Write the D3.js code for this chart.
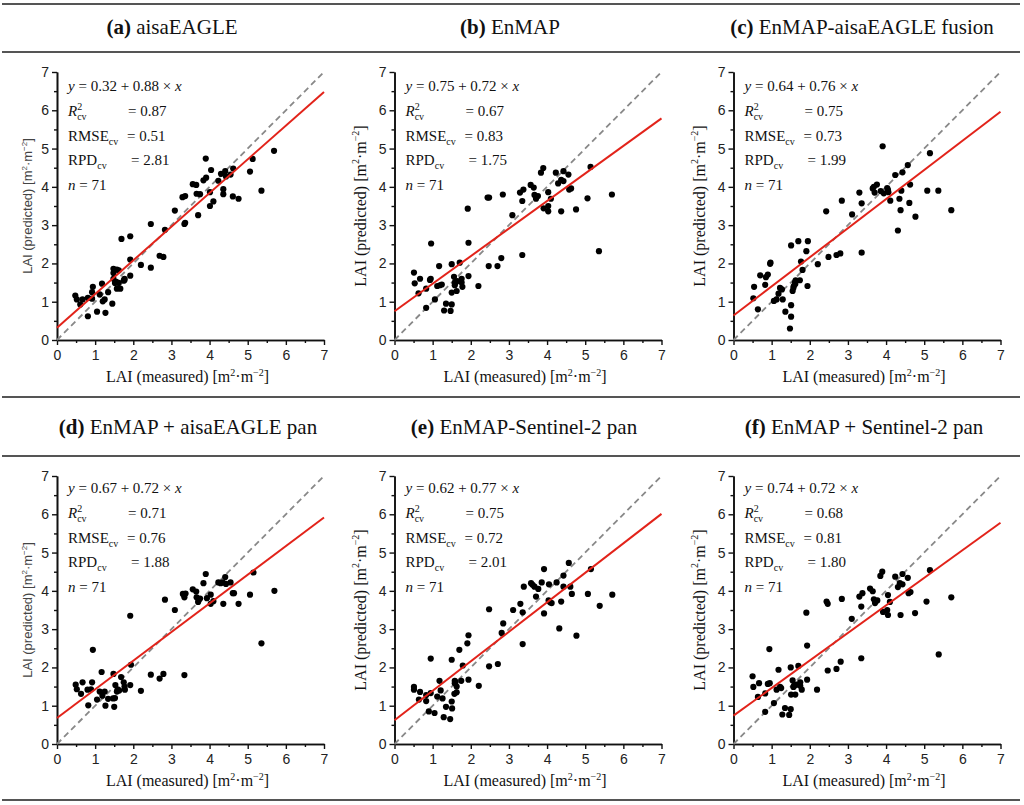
<!DOCTYPE html>
<html>
<head>
<meta charset="utf-8">
<style>
  body { margin: 0; background: #fff; }
  svg { display: block; }
</style>
</head>
<body>
<svg id="chart" width="1024" height="805"></svg>
<script src="https://cdn.jsdelivr.net/npm/d3@7/dist/d3.min.js"></script>
<script>

// ---- data ----
var panelLetters = ["a", "b", "c", "d", "e", "f"];
var panelNames = ["aisaEAGLE", "EnMAP", "EnMAP-aisaEAGLE fusion",
                  "EnMAP + aisaEAGLE pan", "EnMAP-Sentinel-2 pan", "EnMAP + Sentinel-2 pan"];
var intercepts = [0.32, 0.75, 0.64, 0.67, 0.62, 0.74];
var slopes     = [0.88, 0.72, 0.76, 0.72, 0.77, 0.72];
// the red lines as actually drawn in the figure (panel d is drawn a bit steeper than its label)
var lineIntercepts = [0.32, 0.75, 0.64, 0.68, 0.62, 0.74];
var lineSlopes     = [0.88, 0.72, 0.76, 0.748, 0.77, 0.72];
var r2cv       = ["0.87", "0.67", "0.75", "0.71", "0.75", "0.68"];
var rmsecv     = ["0.51", "0.83", "0.73", "0.76", "0.72", "0.81"];
var rpdcv      = ["2.81", "1.75", "1.99", "1.88", "2.01", "1.80"];
var nSamples   = [71, 71, 71, 71, 71, 71];
var axisTicks  = [0, 1, 2, 3, 4, 5, 6, 7];

// [measured, predicted]
var pointsA = [[0.48,1.16],[0.52,1.06],[0.61,0.93],[0.67,1.06],[0.81,1.10],[0.81,0.62],[0.92,1.08],[0.94,1.39],
  [0.92,1.25],[1.05,0.74],[1.12,1.19],[1.18,1.47],[1.20,1.01],[1.25,1.06],[1.27,0.71],[1.34,1.25],[1.45,0.95],
  [1.48,1.75],[1.48,1.86],[1.52,1.49],[1.57,1.84],[1.57,1.34],[1.62,1.49],[1.66,1.34],[1.69,2.64],[1.75,1.55],
  [1.77,1.60],[1.92,2.10],[1.92,2.71],[1.92,1.68],[2.20,1.96],[2.46,3.03],[2.46,1.89],[2.69,2.20],[2.79,2.17],
  [2.83,2.88],[3.09,3.38],[3.29,3.73],[3.36,3.76],[3.34,3.03],[3.56,4.07],[3.65,4.05],[3.66,3.82],[3.70,3.26],
  [3.75,3.81],[3.84,4.17],[3.91,4.24],[3.90,4.74],[4.01,3.86],[4.01,3.50],[4.04,4.44],[4.10,3.62],[4.23,4.16],
  [4.30,4.34],[4.36,3.81],[4.36,3.94],[4.41,4.41],[4.43,4.27],[4.55,4.32],[4.61,3.75],[4.62,4.48],[4.76,3.69],
  [5.06,4.40],[5.13,4.73],[5.36,3.90],[5.69,4.94],[1.48,1.60],[1.62,1.82],[3.36,3.06],[1.77,1.57],[1.55,1.52]];

var pointsB = [[0.51,1.76],[0.53,1.48],[0.67,1.60],[0.63,1.22],[0.83,1.34],[0.83,0.84],[0.93,1.57],[0.96,2.52],
  [0.95,1.60],[1.06,1.06],[1.12,1.41],[1.17,1.93],[1.19,1.43],[1.24,1.45],[1.30,0.77],[1.35,0.95],[1.47,0.76],
  [1.50,0.93],[1.50,1.98],[1.50,1.24],[1.56,1.65],[1.58,1.43],[1.61,1.51],[1.63,1.28],[1.64,1.54],[1.71,2.02],
  [1.76,1.50],[1.76,1.60],[1.78,1.39],[1.92,3.43],[1.94,2.54],[1.94,1.67],[2.20,1.41],[2.44,3.72],[2.48,3.72],
  [2.47,1.93],[2.70,1.93],[2.80,2.14],[2.84,3.80],[3.09,3.26],[3.29,3.85],[3.35,3.63],[3.35,2.22],[3.38,3.93],
  [3.57,4.05],[3.65,3.98],[3.67,3.79],[3.71,3.69],[3.76,3.76],[3.84,4.37],[3.90,4.49],[3.91,3.44],[4.03,3.86],
  [4.03,3.50],[4.03,3.36],[4.10,3.69],[4.23,4.37],[4.29,4.09],[4.37,4.18],[4.37,3.36],[4.43,4.41],[4.43,4.15],
  [4.56,4.32],[4.58,3.93],[4.63,3.96],[4.76,3.41],[5.06,3.70],[5.14,4.52],[5.36,2.32],[5.70,3.80],[1.58,1.50]];

var pointsC = [[0.52,1.09],[0.54,1.39],[0.64,0.80],[0.70,1.69],[0.83,1.44],[0.85,1.64],[0.90,1.71],[0.96,1.99],
  [0.97,2.02],[1.06,1.02],[1.13,1.06],[1.18,1.21],[1.22,1.36],[1.27,1.32],[1.29,1.06],[1.36,0.74],[1.48,0.30],
  [1.51,0.61],[1.51,0.91],[1.51,2.47],[1.55,1.28],[1.58,1.41],[1.61,1.50],[1.63,1.56],[1.70,2.58],[1.74,1.56],
  [1.77,2.05],[1.81,1.83],[1.91,2.32],[1.95,2.58],[1.94,1.41],[2.21,1.98],[2.43,3.36],[2.49,2.17],[2.70,2.22],
  [2.80,2.26],[2.84,3.64],[3.11,3.28],[3.30,3.85],[3.36,3.57],[3.36,2.28],[3.65,3.96],[3.70,3.85],[3.76,4.06],
  [3.86,3.89],[3.91,5.06],[3.94,3.83],[4.03,3.97],[4.06,3.86],[4.11,3.64],[4.24,4.31],[4.31,2.86],[4.35,3.69],
  [4.38,3.39],[4.40,3.90],[4.43,4.38],[4.57,4.57],[4.61,3.58],[4.63,4.06],[4.77,3.22],[5.08,3.90],[5.15,4.88],
  [5.37,3.90],[5.71,3.39],[1.57,1.36],[1.62,1.46],[3.68,4.00],[4.05,3.92]];

var pointsD = [[0.49,1.55],[0.52,1.43],[0.63,1.31],[0.67,1.61],[0.80,1.42],[0.82,1.01],[0.89,1.43],[0.92,1.61],
  [0.94,2.46],[1.05,1.16],[1.12,1.37],[1.17,1.88],[1.19,1.26],[1.25,1.37],[1.27,1.00],[1.34,1.18],[1.47,1.19],
  [1.48,1.83],[1.50,0.97],[1.53,1.54],[1.57,1.37],[1.59,1.43],[1.63,1.40],[1.68,1.75],[1.75,1.61],[1.77,1.50],
  [1.78,1.42],[1.92,3.35],[1.94,2.07],[1.92,1.54],[2.20,1.39],[2.46,1.81],[2.69,1.71],[2.79,1.83],[2.83,3.77],
  [3.09,3.50],[3.30,3.92],[3.34,3.83],[3.37,3.93],[3.34,1.80],[3.56,4.04],[3.65,3.98],[3.66,3.83],[3.70,3.71],
  [3.75,3.80],[3.84,4.20],[3.90,4.44],[3.93,3.81],[4.03,3.90],[4.03,3.66],[4.10,3.73],[4.23,4.22],[4.29,4.20],
  [4.34,4.22],[4.36,3.66],[4.41,4.36],[4.43,4.18],[4.55,4.22],[4.61,3.94],[4.64,3.94],[4.76,3.66],[5.06,3.90],
  [5.15,4.48],[5.36,2.63],[5.70,4.00],[1.60,1.40],[1.52,1.20],[3.72,3.77]];

var pointsE = [[0.51,1.49],[0.51,1.42],[0.67,1.36],[0.64,1.16],[0.83,1.28],[0.83,1.12],[0.90,0.85],[0.95,1.33],
  [0.95,2.23],[1.05,0.81],[1.12,1.24],[1.18,1.65],[1.21,1.40],[1.26,1.19],[1.29,0.70],[1.35,0.97],[1.46,0.65],
  [1.50,1.11],[1.51,0.93],[1.50,2.20],[1.57,1.31],[1.58,1.65],[1.58,1.59],[1.63,1.35],[1.63,1.50],[1.70,2.46],
  [1.75,1.65],[1.79,2.05],[1.91,2.63],[1.94,2.84],[1.94,1.68],[2.21,1.52],[2.48,3.52],[2.48,2.03],[2.71,2.09],
  [2.81,2.90],[2.85,3.15],[3.11,3.50],[3.30,3.66],[3.36,3.44],[3.36,2.61],[3.39,4.11],[3.58,4.20],[3.67,4.11],
  [3.71,3.85],[3.77,4.05],[3.86,4.22],[3.92,4.57],[3.92,3.41],[4.05,4.17],[4.04,3.75],[4.12,3.68],[4.25,4.22],
  [4.32,3.02],[4.37,3.72],[4.43,4.40],[4.43,4.11],[4.57,4.73],[4.61,4.11],[4.65,3.92],[4.77,2.83],[5.07,3.92],
  [5.15,4.57],[5.38,3.61],[5.71,3.90],[3.62,4.16],[4.08,3.70],[1.60,1.62]];

var pointsF = [[0.50,1.77],[0.52,1.49],[0.67,1.59],[0.64,1.23],[0.83,1.32],[0.83,0.84],[0.90,1.57],[0.94,2.48],
  [0.95,1.59],[1.06,1.07],[1.13,1.42],[1.18,1.94],[1.22,1.49],[1.25,1.46],[1.28,0.77],[1.35,0.94],[1.46,0.76],
  [1.50,0.91],[1.50,2.00],[1.51,1.29],[1.55,1.66],[1.57,1.49],[1.60,1.54],[1.62,1.29],[1.65,1.55],[1.70,2.04],
  [1.75,1.61],[1.75,1.52],[1.79,1.42],[1.91,3.43],[1.93,2.57],[1.93,1.68],[2.19,1.42],[2.44,3.72],[2.47,3.66],
  [2.47,1.92],[2.70,1.96],[2.81,2.15],[2.84,3.79],[3.10,3.27],[3.30,3.85],[3.35,3.59],[3.35,2.24],[3.38,3.94],
  [3.58,4.06],[3.65,3.99],[3.68,3.78],[3.71,3.68],[3.77,3.75],[3.85,4.39],[3.90,4.50],[3.92,3.45],[4.05,3.89],
  [4.03,3.50],[4.05,3.37],[4.10,3.71],[4.24,4.37],[4.31,4.10],[4.36,4.20],[4.38,3.37],[4.43,4.44],[4.43,4.17],
  [4.57,4.34],[4.59,3.94],[4.64,3.97],[4.76,3.42],[5.06,3.72],[5.15,4.54],[5.38,2.34],[5.71,3.83],[1.58,1.50]];

var allPoints = [pointsA, pointsB, pointsC, pointsD, pointsE, pointsF];

// ---- layout ----
var svg = d3.select("#chart");
var colLeft = [57, 394.5, 733.5],
    rowTop = [72, 476],
    plotW = 267,
    plotH = 268;
var headCx = [172, 510, 862, 188, 524, 864],
    headBase = [34, 434];
var serif = "Liberation Serif, Times New Roman, serif",
    sans = "Liberation Sans, Arial, sans-serif";

// horizontal table rules
[4, 52, 397, 456, 800].forEach(function(y) {
  svg.append("line")
     .attr("x1", 2).attr("x2", 1020)
     .attr("y1", y).attr("y2", y)
     .attr("stroke", "#555").attr("stroke-width", 2);
});

var x = d3.scaleLinear().domain([0, 7]).range([0, plotW]),
    y = d3.scaleLinear().domain([0, 7]).range([plotH, 0]);

var minorTicks = d3.range(0.5, 7, 1);
var fmt = d3.format("d");

allPoints.forEach(function(pts, i) {
  var col = i % 3, row = Math.floor(i / 3);
  var left = colLeft[col], top = rowTop[row];

  // header
  var head = svg.append("text")
      .attr("x", headCx[i]).attr("y", headBase[row])
      .attr("text-anchor", "middle")
      .attr("font-family", serif).attr("font-size", 21).attr("fill", "#111");
  head.append("tspan").attr("font-weight", "bold").text("(" + panelLetters[i] + ")");
  head.append("tspan").attr("font-weight", "normal").text(" " + panelNames[i]);

  var g = svg.append("g").attr("transform", "translate(" + left + "," + top + ")");

  // axes
  g.append("g").attr("transform", "translate(0," + plotH + ")")
      .call(d3.axisBottom(x).tickValues(axisTicks).tickFormat(fmt).tickSize(5).tickPadding(5).tickSizeOuter(0));
  g.append("g").attr("transform", "translate(0," + plotH + ")")
      .call(d3.axisBottom(x).tickValues(minorTicks).tickSize(3).tickFormat("").tickSizeOuter(0));
  g.append("g")
      .call(d3.axisLeft(y).tickValues(axisTicks).tickFormat(fmt).tickSize(5).tickPadding(3).tickSizeOuter(0));
  g.append("g")
      .call(d3.axisLeft(y).tickValues(minorTicks).tickSize(3).tickFormat("").tickSizeOuter(0));
  g.selectAll(".domain").attr("stroke", "#111").attr("stroke-width", 1.6);
  g.selectAll(".tick line").attr("stroke", "#111").attr("stroke-width", 1.4);
  g.selectAll(".tick text").attr("font-family", sans).attr("font-size", 14).attr("fill", "#222");

  // 1:1 line
  g.append("line")
      .attr("x1", x(0)).attr("y1", y(0)).attr("x2", x(7)).attr("y2", y(7))
      .attr("stroke", "#888").attr("stroke-width", 1.8).attr("stroke-dasharray", "6,4");

  // points
  g.selectAll("circle.pt").data(pts).enter().append("circle")
      .attr("class", "pt")
      .attr("cx", function(d) { return x(d[0]); })
      .attr("cy", function(d) { return y(d[1]); })
      .attr("r", 3.1)
      .attr("fill", "#000");

  // regression line
  g.append("line")
      .attr("x1", x(0)).attr("y1", y(lineIntercepts[i]))
      .attr("x2", x(7)).attr("y2", y(lineIntercepts[i] + lineSlopes[i] * 7))
      .attr("stroke", "#e2231a").attr("stroke-width", 2);

  // statistics block
  var ax = 11, ay = row === 0 ? 19 : 17, dy = 24.8;
  var st = g.append("g").attr("font-family", serif).attr("font-size", 15).attr("fill", "#111");

  var t0 = st.append("text").attr("x", ax).attr("y", ay);
  t0.append("tspan").attr("font-style", "italic").text("y");
  t0.append("tspan").text(" = " + intercepts[i].toFixed(2) + " + " + slopes[i].toFixed(2) + " × ");
  t0.append("tspan").attr("font-style", "italic").text("x");

  var t1 = st.append("text").attr("x", ax).attr("y", ay + dy);
  t1.append("tspan").attr("font-style", "italic").text("R");
  t1.append("tspan").attr("font-size", 10).attr("dy", -6).text("2");
  t1.append("tspan").attr("font-size", 10).attr("dx", -5).attr("dy", 10).text("cv");
  st.append("text").attr("x", ax + 60).attr("y", ay + dy).text("= " + r2cv[i]);

  var t2 = st.append("text").attr("x", ax).attr("y", ay + 2 * dy);
  t2.append("tspan").text("RMSE");
  t2.append("tspan").attr("font-size", 10).attr("dy", 4).text("cv");
  st.append("text").attr("x", ax + 59).attr("y", ay + 2 * dy).text("= " + rmsecv[i]);

  var t3 = st.append("text").attr("x", ax).attr("y", ay + 3 * dy);
  t3.append("tspan").text("RPD");
  t3.append("tspan").attr("font-size", 10).attr("dy", 4).text("cv");
  st.append("text").attr("x", ax + 63).attr("y", ay + 3 * dy).text("= " + rpdcv[i]);

  var t4 = st.append("text").attr("x", ax).attr("y", ay + 4 * dy);
  t4.append("tspan").attr("font-style", "italic").text("n");
  t4.append("tspan").text(" = " + nSamples[i]);

  // axis titles
  var xt = g.append("text")
      .attr("x", plotW / 2 - 3).attr("y", plotH + 42)
      .attr("text-anchor", "middle")
      .attr("font-family", serif).attr("font-size", 16).attr("fill", "#111");
  unitText(xt, "LAI (measured) [m", 16);

  var sansY = (col === 0);
  var yt = g.append("text")
      .attr("transform", "translate(" + (sansY ? -25 : -29) + "," + (plotH / 2) + ") rotate(-90)")
      .attr("text-anchor", "middle")
      .attr("font-family", sansY ? sans : serif)
      .attr("font-size", sansY ? 13 : 16)
      .attr("fill", sansY ? "#444" : "#111");
  unitText(yt, "LAI (predicted) [m", sansY ? 13 : 16);
});

function unitText(sel, lead, fs) {
  var sup = Math.round(fs * 0.62);
  sel.append("tspan").text(lead);
  sel.append("tspan").attr("font-size", sup).attr("dy", -fs * 0.4).text("2");
  sel.append("tspan").attr("dy", fs * 0.4).text("·m");
  sel.append("tspan").attr("font-size", sup).attr("dy", -fs * 0.4).text("−2");
  sel.append("tspan").attr("dy", fs * 0.4).text("]");
}

</script>
</body>
</html>
